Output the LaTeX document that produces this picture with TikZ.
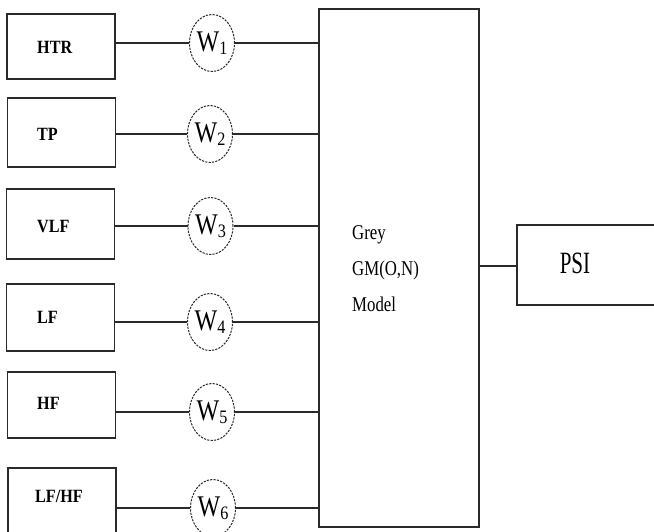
\documentclass[tikz,border=0pt]{standalone}
\usepackage{fontspec}
\setmainfont{Liberation Serif}
\usetikzlibrary{shapes.geometric}
\definecolor{ln}{HTML}{2a2a2a}
\tikzset{
  inbox/.style={draw=ln, line width=1.4pt, minimum width=108pt, inner sep=0pt},
  lbl/.style={anchor=west, inner sep=0pt, font=\fontsize{17}{17}\selectfont\bfseries},
  wnode/.style={ellipse, draw=ln, line width=1pt, dash pattern=on 2.2pt off 1.2pt,
    minimum width=45pt, minimum height=57pt, inner sep=0pt},
  wire/.style={draw=ln, line width=1.2pt}
}
\newcommand{\wlab}[1]{\fontsize{30}{30}\selectfont\scalebox{0.8}[1]{W}\raisebox{-3pt}{\fontsize{19}{19}\selectfont\scalebox{0.85}[1]{#1}}}
\newcommand{\blab}[1]{\scalebox{0.95}[1.1]{#1}}
\begin{document}
\begin{tikzpicture}[x=1pt,y=-1pt]
\useasboundingbox (0,0) rectangle (654,531);
\clip (0,0) rectangle (654,531);
% input boxes
\node[inbox, minimum height=65pt] (b1) at (61,46.5) {};
\node[inbox, minimum height=69pt] (b2) at (61.5,132.5) {};
\node[inbox, minimum height=70pt] (b3) at (60.5,224) {};
\node[inbox, minimum height=67pt] (b4) at (60.5,317.5) {};
\node[inbox, minimum height=66pt] (b5) at (61.5,405) {};
\node[inbox, minimum height=100pt] (b6) at (62,518) {};
% labels
\node[lbl] (t1) at (37,47.5) {\blab{HTR}};
\node[lbl] (t2) at (37,134) {\blab{TP}};
\node[lbl] (t3) at (37,227) {\blab{VLF}};
\node[lbl] (t4) at (37,317) {\blab{LF}};
\node[lbl] (t5) at (37,403) {\blab{HF}};
\node[lbl] (t6) at (35,496.5) {\blab{LF/HF}};
% weight ellipses
\node[wnode] (w1) at (212,43) {\wlab{1}};
\node[wnode] (w2) at (210,134) {\wlab{2}};
\node[wnode] (w3) at (210.5,226) {\wlab{3}};
\node[wnode] (w4) at (210,322) {\wlab{4}};
\node[wnode] (w5) at (212,412) {\wlab{5}};
\node[wnode] (w6) at (213,508) {\wlab{6}};
% model box
\node[draw=ln, line width=1.4pt, minimum width=160pt, minimum height=518pt, inner sep=0pt] (gm) at (399,268) {};
\node[anchor=base west, inner sep=0pt, align=left, font=\fontsize{21}{36}\selectfont] (gt) at (352,311)
  {\scalebox{0.8}[1]{Grey}\\\scalebox{0.8}[1]{GM(O,N)}\\\scalebox{0.8}[1]{Model}};
% output box
\node[draw=ln, line width=1.4pt, minimum width=170pt, minimum height=80pt, inner sep=0pt] (psi) at (602,265) {};
\node[anchor=center, inner sep=0pt, font=\fontsize{31}{31}\selectfont] (pt) at (575,263) {\scalebox{0.68}[1]{PSI}};
% wires
\foreach \i in {1,...,6}{
  \draw[wire] (b\i.east |- w\i) -- (w\i.west);
  \draw[wire] (w\i.east) -- (gm.west |- w\i);
}
\draw[wire] (gm.east |- 0,266) -- (psi.west |- 0,266);
\end{tikzpicture}
\end{document}
